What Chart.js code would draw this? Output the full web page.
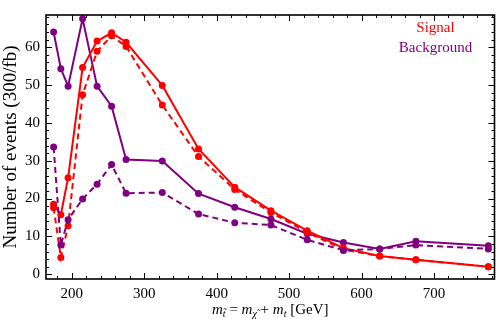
<!DOCTYPE html>
<html>
<head>
<meta charset="utf-8">
<script src="https://cdn.jsdelivr.net/npm/chart.js@4.4.1/dist/chart.umd.min.js"></script>
<style>
  html, body { margin: 0; padding: 0; background: #fff; }
  #chart { display: block; }
</style>
</head>
<body>
<canvas id="chart" width="498" height="328"></canvas>
<script>
// stop mass values (GeV)
const masses = [175, 185, 195, 215, 235, 255, 275, 325, 375, 425, 475, 525, 575, 625, 675, 775];

const signalSolid = [18.5, 15.7, 25.5, 54.6, 61.6, 63.8, 61.3, 49.9, 33.1, 23.0, 16.8, 11.5, 6.9, 4.8, 3.8, 2.0];
const signalDashed = [17.6, 4.4, 12.8, 47.4, 58.9, 63.0, 60.2, 44.7, 31.1, 22.4, 16.3, 11.1, 6.5, 4.8, 3.8, 2.0];
const backgroundSolid = [64.0, 54.3, 49.7, 67.5, 49.7, 44.4, 30.3, 29.9, 21.3, 17.7, 14.6, 10.7, 8.4, 6.7, 8.7, 7.5];
const backgroundDashed = [33.6, 7.7, 14.4, 19.9, 23.8, 29.0, 21.4, 21.6, 15.9, 13.6, 13.0, 9.1, 6.3, 6.7, 7.7, 6.7];

const RED = '#ff0000';
const PURPLE = '#800080';
const SERIF = "'Liberation Serif', 'DejaVu Serif', serif";

function pts(ys) {
  return masses.map((m, i) => ({ x: m, y: ys[i] }));
}

function series(ys, color, dashed) {
  return {
    data: pts(ys),
    borderColor: color,
    backgroundColor: color,
    borderWidth: 2,
    borderDash: dashed ? [6, 4] : [],
    pointRadius: 3.5,
    pointHoverRadius: 3.5,
    pointBorderWidth: 0,
    tension: 0
  };
}

// frame, inward ticks, legend text and x title
const framePlugin = {
  id: 'frame',
  afterDraw(chart) {
    const c = chart.ctx;
    const a = chart.chartArea;
    const xs = chart.scales.x, ys = chart.scales.y;
    c.save();
    c.strokeStyle = '#000';
    c.lineWidth = 1;
    for (let v = 180; v <= 780; v += 20) {
      const px = Math.round(xs.getPixelForValue(v)) + 0.5;
      const len = v % 100 === 0 ? 6 : 3;
      c.beginPath();
      c.moveTo(px, a.bottom); c.lineTo(px, a.bottom - len);
      c.moveTo(px, a.top); c.lineTo(px, a.top + len);
      c.stroke();
    }
    for (let v = 0; v <= 68; v += 2) {
      const py = Math.round(ys.getPixelForValue(v)) + 0.5;
      const len = v % 10 === 0 ? 6 : 3;
      c.beginPath();
      c.moveTo(a.left, py); c.lineTo(a.left + len, py);
      c.moveTo(a.right, py); c.lineTo(a.right - len, py);
      c.stroke();
    }
    c.lineWidth = 1.6;
    c.strokeRect(a.left, a.top, a.right - a.left, a.bottom - a.top);

    // legend labels
    c.font = '15px ' + SERIF;
    c.textAlign = 'center';
    c.textBaseline = 'middle';
    c.fillStyle = RED;
    c.fillText('Signal', 435.5, 28);
    c.fillStyle = PURPLE;
    c.fillText('Background', 435.5, 48);

    // x axis title with subscripts
    const parts = [
      { t: 'm', it: true }, { t: 't\u0303', it: true, sub: true },
      { t: ' = ' },
      { t: 'm', it: true }, { t: '\u03c7\u0303', it: true, sub: true },
      { t: ' + ' },
      { t: 'm', it: true }, { t: 't', it: true, sub: true },
      { t: ' [GeV]' }
    ];
    const fontOf = p => (p.it ? 'italic ' : '') + (p.sub ? '10px ' : '15px ') + SERIF;
    let total = 0;
    parts.forEach(p => { c.font = fontOf(p); p.w = c.measureText(p.t).width; total += p.w; });
    let x = (a.left + a.right) / 2 - total / 2;
    const base = 314;
    c.fillStyle = '#000';
    c.textAlign = 'left';
    c.textBaseline = 'alphabetic';
    parts.forEach(p => {
      c.font = fontOf(p);
      c.fillText(p.t, x, p.sub ? base + 3 : base);
      x += p.w;
    });
    c.restore();
  }
};

new Chart(document.getElementById('chart'), {
  type: 'line',
  data: {
    datasets: [
      series(backgroundDashed, PURPLE, true),
      series(signalDashed, RED, true),
      series(signalSolid, RED, false),
      series(backgroundSolid, PURPLE, false)
    ]
  },
  options: {
    responsive: false,
    animation: false,
    devicePixelRatio: 1,
    layout: { padding: { top: 2, right: 3, left: 0, bottom: 0 } },
    plugins: {
      legend: { display: false },
      tooltip: { enabled: false }
    },
    scales: {
      x: {
        type: 'linear',
        min: 164.5,
        max: 783.5,
        grid: { display: false, drawTicks: false },
        border: { display: false },
        ticks: {
          stepSize: 100,
          includeBounds: false,
          color: '#000',
          padding: 6,
          maxRotation: 0,
          font: { family: SERIF, size: 15 }
        },
        afterFit: s => { s.height = 49; }
      },
      y: {
        min: -1.26,
        max: 68.5,
        grid: { display: false, drawTicks: false },
        border: { display: false },
        ticks: {
          stepSize: 10,
          includeBounds: false,
          color: '#000',
          padding: 6,
          font: { family: SERIF, size: 15 }
        },
        title: {
          display: true,
          text: 'Number of events (300/fb)',
          color: '#000',
          padding: { top: 0, bottom: 0 },
          font: { family: SERIF, size: 19 }
        },
        afterFit: s => { s.width = 46; }
      }
    }
  },
  plugins: [framePlugin]
});
</script>
</body>
</html>
